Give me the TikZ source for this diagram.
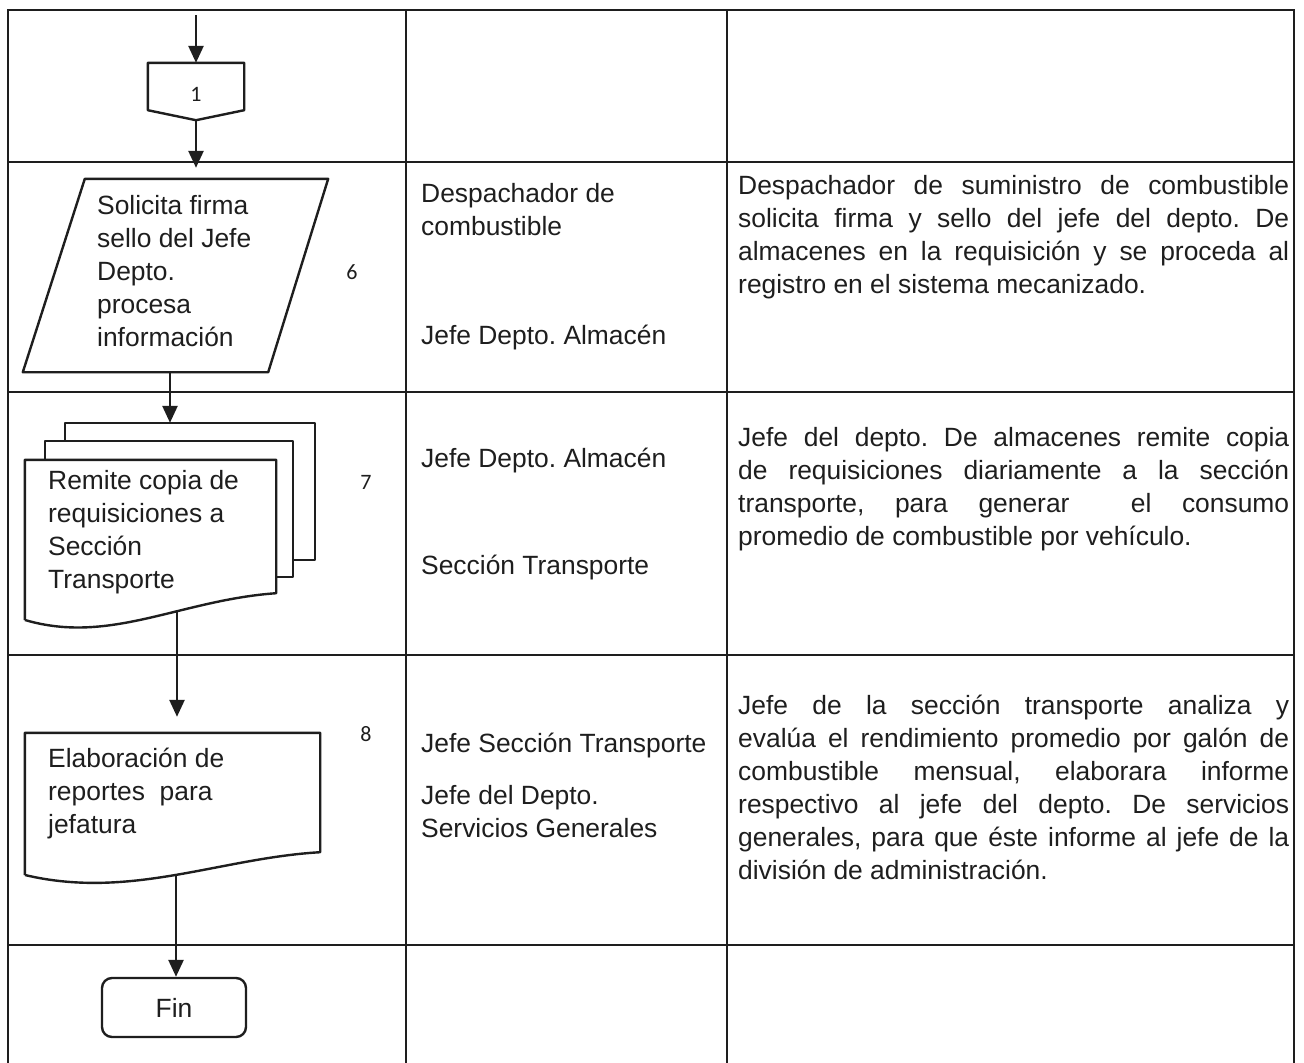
\documentclass[tikz,border=0pt]{standalone}
\usepackage{fontspec}
\setmainfont{Liberation Sans}
\newfontfamily\numfont{Carlito}
\usetikzlibrary{arrows.meta,calc}
\definecolor{ink}{HTML}{1E1E1E}
\newcommand{\jl}[1]{\makebox[551pt][s]{#1}}
\frenchspacing
\begin{document}
\begin{tikzpicture}[x=1pt,y=-1pt,
  tbl/.style={line width=1.9pt, draw=ink},
  shp/.style={line width=2.4pt, draw=ink, fill=white, line join=round},
  arr/.style={line width=2.6pt, draw=ink, -{Triangle[length=17pt,width=15pt]}},
  txt/.style={font=\fontsize{26.4}{33}\selectfont, inner sep=0pt, anchor=north west, align=left, text=ink},
  num/.style={font=\numfont\fontsize{22}{26}\selectfont, inner sep=0pt, text=ink},
  box/.style={inner sep=0pt, draw=none},
]
\useasboundingbox (0,0) rectangle (1304,1063);
\fill[white] (0,0) rectangle (1304,1063);

% table grid
\draw[tbl] (8,1063) -- (8,10) -- (1294,10) -- (1294,1063);
\foreach \yy in {162,392,655,945} \draw[tbl] (8,\yy) -- (1294,\yy);
\draw[tbl] (406,10) -- (406,1063);
\draw[tbl] (727,10) -- (727,1063);

% shape placeholders
\node[box, minimum width=96pt, minimum height=57pt] (c1) at (196,91.5) {};
\node[box, minimum width=305pt, minimum height=193pt] (p6) at (175.5,275.5) {};
\node[box, minimum width=250pt, minimum height=137pt] (mdb) at (190,491.5) {};
\node[box, minimum width=248pt, minimum height=136pt] (mdm) at (169,509) {};
\node[box, minimum width=251pt, minimum height=133pt] (md) at (150.5,526.5) {};
\node[box, minimum width=295pt, minimum height=119pt] (d8) at (172.5,792.5) {};

\coordinate (start) at (196,15);
\coordinate (p6-b) at (170,372);
\coordinate (md-b) at (177,610);
\coordinate (d8-b) at (176,874);

% connectors
\draw[arr] (start) -- (start |- c1.north);
\draw[arr, shorten >=11pt] (c1.south) -- (c1.south |- p6.north);
\draw[arr] (p6-b) -- (p6-b |- mdb.north);
\draw[arr, shorten >=16pt] (md-b) -- (md-b |- d8.north);

% outlines
\draw[shp] (c1.north west) -- (c1.north east) -- ($(c1.south east)+(0,-10)$) -- (c1.south) -- ($(c1.south west)+(0,-10)$) -- cycle;
\draw[shp] ($(p6.north west)+(62,0)$) -- (p6.north east) -- ($(p6.south east)+(-60,0)$) -- (p6.south west) -- cycle;
\draw[shp] (mdb.north west) rectangle (mdb.south east);
\draw[shp] (mdm.north west) rectangle (mdm.south east);
\draw[shp] (md.south west) ++(0,27) -- (md.north west) -- (md.north east) -- (md.south east)
   .. controls (180,600) and (110,645) .. (25,620);
\draw[shp] (d8.south west) ++(0,23) -- (d8.north west) -- (d8.north east) -- (d8.south east)
   .. controls (220,858) and (130,900) .. (25,875);
\node[shp, rounded corners=10pt, minimum width=144pt, minimum height=59pt, inner sep=0pt,
  font=\fontsize{26.4}{33}\selectfont, text=ink] (fin) at (174,1007.5) {Fin};
\draw[arr] (d8-b) -- (d8-b |- fin.north);

% texts column 1
\node[num] (t1) at (196,94) {1};
\node[txt] (t6) at (97,191) {\strut Solicita firma\\sello del Jefe\\Depto.\\procesa\\información};
\node[txt] (t7) at (48,466) {\strut Remite copia de\\requisiciones a\\Sección\\Transporte};
\node[txt] (t8) at (48,744) {\strut Elaboración de\\reportes\ \ para\\jefatura};

% step numbers
\node[num] (n6) at (352,272) {6};
\node[num] (n7) at (366,482) {7};
\node[num] (n8) at (366,734) {8};

% column 2
\node[txt] (r2a) at (421,179) {\strut Despachador de\\combustible};
\node[txt] (r2b) at (421,321) {\strut Jefe Depto. Almacén};
\node[txt] (r3a) at (421,444) {\strut Jefe Depto. Almacén};
\node[txt] (r3b) at (421,551) {\strut Sección Transporte};
\node[txt] (r4a) at (421,729) {\strut Jefe Sección Transporte};
\node[txt] (r4b) at (421,781) {\strut Jefe del Depto.\\Servicios Generales};

% column 3
\node[txt] (d2) at (738,171) {\strut\jl{Despachador de suministro de combustible}\\
\jl{solicita firma y sello del jefe del depto. De}\\
\jl{almacenes en la requisición y se proceda al}\\
registro en el sistema mecanizado.};
\node[txt] (d3) at (738,423) {\strut\jl{Jefe del depto. De almacenes remite copia}\\
\jl{de requisiciones diariamente a la sección}\\
\jl{transporte, para generar \ el consumo}\\
promedio de combustible por vehículo.};
\node[txt] (d4) at (738,691) {\strut\jl{Jefe de la sección transporte analiza y}\\
\jl{evalúa el rendimiento promedio por galón de}\\
\jl{combustible mensual, elaborara informe}\\
\jl{respectivo al jefe del depto. De servicios}\\
\jl{generales, para que éste informe al jefe de la}\\
división de administración.};
\end{tikzpicture}
\end{document}
